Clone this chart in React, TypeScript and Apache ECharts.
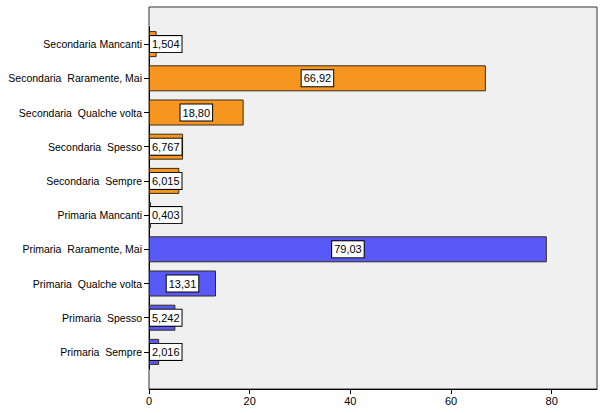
import React, { useEffect, useRef } from "react";
import * as echarts from "echarts";

const categories = [
  "Primaria  Sempre",
  "Primaria  Spesso",
  "Primaria  Qualche volta",
  "Primaria  Raramente, Mai",
  "Primaria Mancanti",
  "Secondaria  Sempre",
  "Secondaria  Spesso",
  "Secondaria  Qualche volta",
  "Secondaria  Raramente, Mai",
  "Secondaria Mancanti",
];
const values = [2.016, 5.242, 13.31, 79.03, 0.403, 6.015, 6.767, 18.8, 66.92, 1.504];
const groups = ["Primaria", "Primaria", "Primaria", "Primaria", "Primaria", "Secondaria", "Secondaria", "Secondaria", "Secondaria", "Secondaria"];
const xTicks = [0, 20, 40, 60, 80];

const groupColor: Record<string, string> = { Primaria: "#5959F7", Secondaria: "#F7961E" };

function fmt(v: number): string {
  const intDigits = String(Math.floor(v)).length;
  const dec = Math.min(3, Math.max(0, 4 - intDigits));
  return v.toFixed(dec).replace(".", ",");
}

export default function App() {
  const ref = useRef<HTMLDivElement>(null);
  useEffect(() => {
    if (!ref.current) return;
    const chart = echarts.init(ref.current, undefined, { renderer: "svg" });
    const font = "'Liberation Sans', Arial, sans-serif";
    const data = values.map((v, i) => {
      const small = v < 7;
      return {
        value: v,
        itemStyle: { color: groupColor[groups[i]] },
        label: small
          ? { position: [1, "50%"], align: "left", verticalAlign: "middle" }
          : { position: "inside", align: "center", verticalAlign: "middle" },
      };
    });
    chart.setOption({
      animation: false,
      backgroundColor: "#ffffff",
      graphic: [
        {
          type: "rect",
          z: -1,
          silent: true,
          shape: { x: 149, y: 7, width: 448, height: 382 },
          style: { fill: "#f0f0f0", stroke: "#333333", lineWidth: 1 },
        },
      ],
      grid: { left: 149, right: 6, top: 27, bottom: 44, containLabel: false },
      xAxis: {
        type: "value",
        min: 0,
        max: 89,
        interval: 20,
        offset: 20,
        splitLine: { show: false },
        axisLine: { show: true, lineStyle: { color: "#000", width: 1 } },
        axisTick: { show: true, length: 5, lineStyle: { color: "#000" } },
        axisLabel: {
          color: "#000",
          fontFamily: font,
          fontSize: 11,
          margin: 6,
          showMaxLabel: false,
          formatter: (v: number) => (xTicks.includes(v) ? String(v) : ""),
        },
      },
      yAxis: {
        type: "category",
        data: categories,
        axisLine: { show: true, lineStyle: { color: "#000" } },
        axisTick: { show: true, alignWithLabel: true, length: 5, lineStyle: { color: "#000" } },
        axisLabel: { color: "#000", fontFamily: font, fontSize: 10.5, margin: 7 },
      },
      series: [
        {
          type: "bar",
          data,
          barWidth: 26,
          itemStyle: { borderColor: "#3a2a1a", borderWidth: 1 },
          label: {
            show: true,
            formatter: (p: any) => fmt(p.value),
            color: "#000",
            fontFamily: font,
            fontSize: 11,
            backgroundColor: "#ffffff",
            borderColor: "#000",
            borderWidth: 1,
            padding: [3, 2, 2, 2],
          },
        },
      ],
    });
    return () => chart.dispose();
  }, []);
  return <div ref={ref} style={{ width: 603, height: 413, position: "absolute", left: 0, top: 0 }} />;
}
